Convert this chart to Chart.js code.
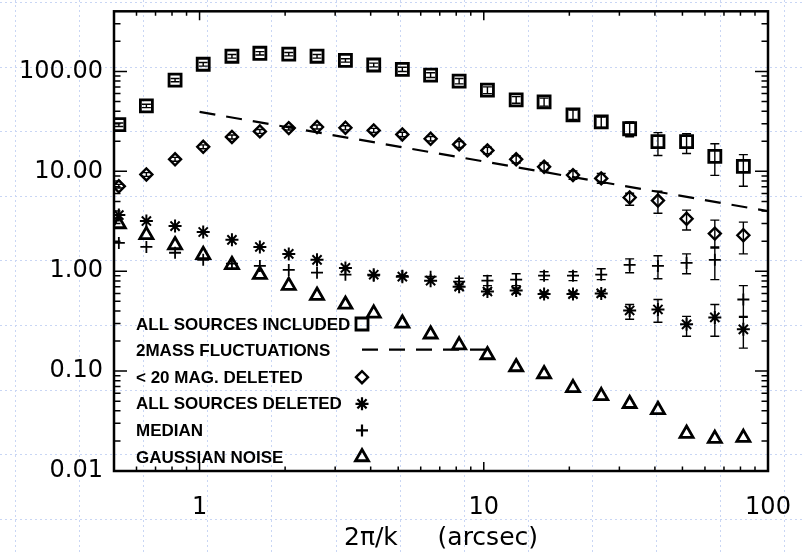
<!DOCTYPE html>
<html>
<head>
<meta charset="utf-8">
<script src="https://cdn.jsdelivr.net/npm/chart.js@4/dist/chart.umd.min.js"></script>
<style>
  body { margin: 0; background: #fff; }
</style>
</head>
<body>
<canvas id="powerChart" width="804" height="553"></canvas>
<script>
// angular scale 2pi/k (arcsec)
const scaleX = [0.52, 0.65, 0.82, 1.03, 1.30, 1.63, 2.06, 2.59, 3.26, 4.10, 5.17, 6.50,
                8.19, 10.3, 13.0, 16.3, 20.6, 25.9, 32.6, 41.0, 51.7, 65.0, 81.9];

// all sources included (squares)
const allIncl   = [29.3, 45.2, 81.9, 118, 142, 152, 149, 142, 129, 116, 105, 92,
                   80, 65, 52, 49.5, 36.8, 31.3, 26.7, 19.8, 19.8, 14.1, 11.2];
const allInclHi = [30.5, 47, 85, 123, 148, 158, 155, 148, 134, 121, 110, 97,
                   85, 70, 56, 54, 41, 35, 31.3, 24.4, 23.8, 18.9, 14.7];
const allInclLo = [28.1, 43.4, 78.8, 113, 136, 146, 143, 136, 124, 111, 100, 87,
                   75, 60, 48, 45, 33, 27.5, 22.2, 14.4, 15.1, 9.1, 7.08];

// < 20 mag deleted (diamonds)
const magDel   = [7.08, 9.31, 13.2, 17.6, 22.1, 25.1, 27.1, 27.8, 27.3, 25.7, 23.4, 21.2,
                  18.6, 16.2, 13.2, 11.1, 9.17, 8.5, 5.47, 5.10, 3.35, 2.38, 2.29];
const magDelHi = [7.4, 9.7, 13.8, 18.4, 23.1, 26.2, 28.3, 29.1, 28.6, 26.9, 24.6, 22.3,
                  19.9, 17.4, 14.3, 12.1, 10.1, 9.5, 6.03, 6.31, 4.09, 3.25, 3.10];
const magDelLo = [6.8, 8.9, 12.6, 16.8, 21.1, 24.0, 25.9, 26.5, 26.0, 24.5, 22.2, 20.1,
                  17.3, 15.0, 12.1, 10.1, 8.3, 7.6, 4.58, 3.81, 2.59, 1.71, 1.49];

// all sources deleted (asterisks)
const allDel   = [3.65, 3.18, 2.83, 2.47, 2.06, 1.75, 1.49, 1.30, 1.08, 0.923, 0.882, 0.805,
                  0.701, 0.626, 0.640, 0.59, 0.59, 0.60, 0.405, 0.414, 0.294, 0.345, 0.262];
const allDelHi = [null, null, null, null, null, null, null, null, null, null, null, null,
                  0.74, 0.66, 0.68, 0.62, 0.62, 0.63, 0.465, 0.521, 0.353, 0.465, 0.345];
const allDelLo = [null, null, null, null, null, null, null, null, null, null, null, null,
                  0.66, 0.59, 0.60, 0.55, 0.55, 0.56, 0.330, 0.308, 0.223, 0.223, 0.170];

// median (plus)
const median   = [1.92, 1.75, 1.53, 1.30, 1.19, 1.13, 1.03, 0.966, 0.923, 0.902, 0.90, 0.882,
                  0.787, 0.805, 0.824, 0.902, 0.902, 0.923, 1.16, 1.13, 1.21, 1.30, 0.521];
const medianHi = [null, null, null, null, null, null, null, null, null, null, null, null,
                  0.85, 0.902, 0.944, 0.989, 0.989, 1.06, 1.33, 1.43, 1.49, 1.75, 0.718];
const medianLo = [null, null, null, null, null, null, null, null, null, null, null, null,
                  0.73, 0.718, 0.718, 0.823, 0.805, 0.823, 0.966, 0.842, 0.944, 0.823, 0.353];

// gaussian noise (triangles)
const gauss = [2.97, 2.31, 1.83, 1.46, 1.16, 0.923, 0.718, 0.571, 0.465, 0.378, 0.301, 0.234,
               0.182, 0.145, 0.110, 0.0936, 0.0679, 0.0565, 0.0471, 0.0410, 0.0237, 0.0211, 0.0216];

// 2MASS fluctuations (dashed power law)
const flucX = [1, 100];
const flucY = [39.4, 4.0];

// axes
const xMajor = [1, 10, 100];
const yMajor = [0.01, 0.1, 1, 10, 100];
const yTickLabels = ['0.01', '0.10', '1.00', '10.00', '100.00'];
const xTicks = [0.5, 0.6, 0.7, 0.8, 0.9, 1, 2, 3, 4, 5, 6, 7, 8, 9, 10,
                20, 30, 40, 50, 60, 70, 80, 90, 100];
const yTicks = [0.01, 0.02, 0.03, 0.04, 0.05, 0.06, 0.07, 0.08, 0.09,
                0.1, 0.2, 0.3, 0.4, 0.5, 0.6, 0.7, 0.8, 0.9,
                1, 2, 3, 4, 5, 6, 7, 8, 9,
                10, 20, 30, 40, 50, 60, 70, 80, 90,
                100, 200, 300];

const legendRows = [
  {text: 'ALL SOURCES INCLUDED', style: 'rect', radius: 8.5, width: 2.8},
  {text: '2MASS FLUCTUATIONS', style: 'dash'},
  {text: '< 20 MAG. DELETED', style: 'rectRot', radius: 6, width: 2.4},
  {text: 'ALL SOURCES DELETED', style: 'star', radius: 6.5, width: 2.2},
  {text: 'MEDIAN', style: 'cross', radius: 6, width: 2.2},
  {text: 'GAUSSIAN NOISE', style: 'triangle', radius: 7.5, width: 2.8}
];

const pts = (ys) => ys.map((v, i) => ({x: scaleX[i], y: v}));

function symbolSet(label, ys, style, radius, width, lo, hi) {
  return {
    label: label,
    data: pts(ys),
    showLine: false,
    pointStyle: style,
    pointRadius: radius,
    pointBorderWidth: width,
    pointBorderColor: '#000',
    pointBackgroundColor: 'rgba(0,0,0,0)',
    errLo: lo,
    errHi: hi
  };
}

// light blue dotted sheet behind everything
const paperGrid = {
  id: 'paperGrid',
  beforeDraw(chart) {
    const {ctx, width, height} = chart;
    ctx.save();
    ctx.fillStyle = '#fff';
    ctx.fillRect(0, 0, width, height);
    ctx.strokeStyle = '#c9d6f4';
    ctx.lineWidth = 1;
    ctx.setLineDash([2, 3]);
    ctx.beginPath();
    for (let gx = 15; gx < width; gx += 64.1) {
      ctx.moveTo(Math.round(gx) + 0.5, 0);
      ctx.lineTo(Math.round(gx) + 0.5, height);
    }
    for (let gy = 2; gy < height; gy += 64.6) {
      ctx.moveTo(0, Math.round(gy) + 0.5);
      ctx.lineTo(width, Math.round(gy) + 0.5);
    }
    ctx.stroke();
    ctx.restore();
  }
};

// error bars, inward ticks on all four sides, boxed frame, legend
const overlay = {
  id: 'overlay',
  afterDatasetsDraw(chart) {
    const {ctx, chartArea: a, scales: {x, y}} = chart;
    ctx.save();
    ctx.strokeStyle = '#000';

    // error bars
    ctx.lineWidth = 1.4;
    ctx.beginPath();
    chart.data.datasets.forEach((ds) => {
      if (!ds.errLo) return;
      ds.data.forEach((p, i) => {
        if (ds.errLo[i] == null) return;
        const px = x.getPixelForValue(p.x);
        const y1 = y.getPixelForValue(ds.errLo[i]);
        const y2 = y.getPixelForValue(ds.errHi[i]);
        ctx.moveTo(px, y1); ctx.lineTo(px, y2);
        ctx.moveTo(px - 4.5, y1); ctx.lineTo(px + 4.5, y1);
        ctx.moveTo(px - 4.5, y2); ctx.lineTo(px + 4.5, y2);
      });
    });
    ctx.stroke();

    // ticks
    ctx.lineWidth = 1.5;
    ctx.beginPath();
    xTicks.forEach((v) => {
      const px = x.getPixelForValue(v);
      const len = xMajor.includes(v) ? 9 : 4.5;
      ctx.moveTo(px, a.bottom); ctx.lineTo(px, a.bottom - len);
      ctx.moveTo(px, a.top); ctx.lineTo(px, a.top + len);
    });
    yTicks.forEach((v) => {
      const py = y.getPixelForValue(v);
      const len = yMajor.includes(v) ? 13 : 6.5;
      ctx.moveTo(a.left, py); ctx.lineTo(a.left + len, py);
      ctx.moveTo(a.right, py); ctx.lineTo(a.right - len, py);
    });
    ctx.stroke();

    ctx.lineWidth = 2.5;
    ctx.strokeRect(a.left, a.top, a.right - a.left, a.bottom - a.top);

    // legend
    ctx.fillStyle = '#000';
    ctx.font = 'bold 17px "Liberation Sans"';
    ctx.textBaseline = 'middle';
    ctx.textAlign = 'left';
    legendRows.forEach((row, i) => {
      const ty = 325 + i * 26.6;
      ctx.fillText(row.text, 136, ty);
      if (row.style === 'dash') {
        ctx.save();
        ctx.lineWidth = 2.2;
        ctx.setLineDash([16, 11]);
        ctx.beginPath();
        ctx.moveTo(362, ty - 2);
        ctx.lineTo(494, ty - 2);
        ctx.stroke();
        ctx.restore();
      } else {
        ctx.save();
        ctx.lineWidth = row.width;
        ctx.fillStyle = 'rgba(0,0,0,0)';
        Chart.helpers.drawPoint(ctx, {pointStyle: row.style, radius: row.radius,
          rotation: 0, borderWidth: row.width}, 362, ty - 1);
        ctx.restore();
      }
    });
    ctx.restore();
  }
};

const tickFont = {family: 'DejaVu Sans', size: 24};

new Chart(document.getElementById('powerChart'), {
  type: 'scatter',
  data: {
    datasets: [
      symbolSet('ALL SOURCES INCLUDED', allIncl, 'rect', 8.5, 2.8, allInclLo, allInclHi),
      {
        label: '2MASS FLUCTUATIONS',
        data: flucX.map((v, i) => ({x: v, y: flucY[i]})),
        showLine: true,
        borderColor: '#000',
        borderWidth: 2.2,
        borderDash: [16, 11],
        pointRadius: 0
      },
      symbolSet('< 20 MAG. DELETED', magDel, 'rectRot', 6, 2.4, magDelLo, magDelHi),
      symbolSet('ALL SOURCES DELETED', allDel, 'star', 6.5, 2.0, allDelLo, allDelHi),
      symbolSet('MEDIAN', median, 'cross', 6, 1.8, medianLo, medianHi),
      symbolSet('GAUSSIAN NOISE', gauss, 'triangle', 7.5, 2.8, null, null)
    ]
  },
  options: {
    responsive: false,
    animation: false,
    layout: {padding: {top: 7, right: 36, left: 0, bottom: 0}},
    plugins: {legend: {display: false}, tooltip: {enabled: false}},
    scales: {
      x: {
        type: 'logarithmic',
        min: 0.5,
        max: 100,
        grid: {display: false, drawTicks: false},
        border: {display: false},
        afterBuildTicks: (s) => { s.ticks = xTicks.map((v) => ({value: v})); },
        afterFit: (s) => { s.height = 82; s.paddingLeft = 0; s.paddingRight = 0; },
        ticks: {
          autoSkip: false,
          maxRotation: 0,
          padding: 22,
          color: '#000',
          font: tickFont,
          callback: (v) => (xMajor.includes(v) ? String(v) : '')
        },
        title: {
          display: true,
          text: '2π/k     (arcsec)',
          color: '#000',
          font: {family: 'DejaVu Sans', size: 25},
          padding: {top: 0, bottom: 0}
        }
      },
      y: {
        type: 'logarithmic',
        min: 0.01,
        max: 400,
        grid: {display: false, drawTicks: false},
        border: {display: false},
        afterBuildTicks: (s) => { s.ticks = yTicks.map((v) => ({value: v})); },
        afterFit: (s) => { s.width = 114; s.paddingTop = 0; s.paddingBottom = 0; },
        ticks: {
          autoSkip: false,
          padding: 11,
          color: '#000',
          font: tickFont,
          callback: (v) => {
            const k = yMajor.indexOf(v);
            return k >= 0 ? yTickLabels[k] : '';
          }
        }
      }
    }
  },
  plugins: [paperGrid, overlay]
});
</script>
</body>
</html>
